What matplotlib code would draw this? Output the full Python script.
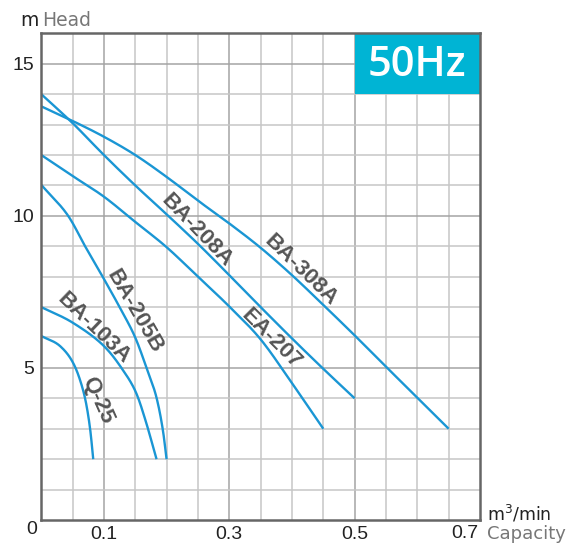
import matplotlib
matplotlib.use("Agg")
import matplotlib.pyplot as plt
from matplotlib.patches import Rectangle
import numpy as np

# ---- data ----
ba308a_x = [0, 0.05, 0.1, 0.15, 0.2, 0.25, 0.3, 0.35, 0.4, 0.45, 0.5, 0.55, 0.6, 0.65]
ba308a_y = [13.6, 13.12, 12.6, 12.0, 11.28, 10.5, 9.75, 8.95, 8.05, 7.07, 6.07, 5.04, 4.02, 3.0]

ba208a_x = [0, 0.05, 0.1, 0.15, 0.2, 0.25, 0.3, 0.35, 0.4, 0.45, 0.5]
ba208a_y = [14.0, 13.05, 12.0, 11.0, 10.05, 9.08, 8.05, 7.0, 5.97, 4.97, 4.0]

ea207_x = [0, 0.05, 0.1, 0.15, 0.2, 0.25, 0.3, 0.35, 0.4, 0.45]
ea207_y = [12.0, 11.31, 10.63, 9.8, 8.97, 8.0, 7.02, 5.94, 4.5, 3.0]

ba205b_x = [0, 0.043, 0.070, 0.098, 0.125, 0.15, 0.168, 0.184, 0.194, 0.2]
ba205b_y = [11.02, 10.0, 9.0, 8.0, 7.0, 6.0, 5.0, 4.02, 2.97, 2.0]

ba103a_x = [0, 0.05, 0.1, 0.128, 0.151, 0.166, 0.184]
ba103a_y = [7.0, 6.49, 5.72, 5.0, 4.2, 3.3, 2.0]

q25_x = [0, 0.03, 0.05, 0.062, 0.071, 0.078, 0.083]
q25_y = [6.05, 5.72, 5.2, 4.6, 3.9, 3.0, 2.0]

series = [
    ("BA-308A", ba308a_x, ba308a_y),
    ("BA-208A", ba208a_x, ba208a_y),
    ("EA-207", ea207_x, ea207_y),
    ("BA-205B", ba205b_x, ba205b_y),
    ("BA-103A", ba103a_x, ba103a_y),
    ("Q-25", q25_x, q25_y),
]

# label placement (x, y, rotation)
label_pos = {
    "BA-308A": (0.4145, 8.2, -44),
    "BA-208A": (0.2477, 9.5, -46),
    "EA-207": (0.367, 5.94, -45),
    "BA-205B": (0.149, 6.87, -60),
    "BA-103A": (0.0836, 6.3, -44),
    "Q-25": (0.0896, 3.93, -66),
}

x_ticks = [0.1, 0.3, 0.5]
x_tick_labels = ["0.1", "0.3", "0.5"]
y_ticks = [5, 10, 15]
y_tick_labels = ["5", "10", "15"]


def catmull_rom(xs, ys, ax_scale=(1.0, 1.0), n=24):
    """Smooth drawing path through the given points (centripetal Catmull-Rom)."""
    P = np.column_stack([np.asarray(xs) * ax_scale[0], np.asarray(ys) * ax_scale[1]])
    P = np.vstack([2 * P[0] - P[1], P, 2 * P[-1] - P[-2]])
    out = []
    for i in range(1, len(P) - 2):
        p0, p1, p2, p3 = P[i - 1], P[i], P[i + 1], P[i + 2]

        def tj(ti, a, b):
            return ti + max(np.linalg.norm(b - a), 1e-9) ** 0.5

        t0 = 0.0
        t1 = tj(t0, p0, p1)
        t2 = tj(t1, p1, p2)
        t3 = tj(t2, p2, p3)
        t = np.linspace(t1, t2, n)[:, None]
        A1 = (t1 - t) / (t1 - t0) * p0 + (t - t0) / (t1 - t0) * p1
        A2 = (t2 - t) / (t2 - t1) * p1 + (t - t1) / (t2 - t1) * p2
        A3 = (t3 - t) / (t3 - t2) * p2 + (t - t2) / (t3 - t2) * p3
        B1 = (t2 - t) / (t2 - t0) * A1 + (t - t0) / (t2 - t0) * A2
        B2 = (t3 - t) / (t3 - t1) * A2 + (t - t1) / (t3 - t1) * A3
        C = (t2 - t) / (t2 - t1) * B1 + (t - t1) / (t2 - t1) * B2
        out.append(C if i == 1 else C[1:])
    C = np.vstack(out)
    return C[:, 0] / ax_scale[0], C[:, 1] / ax_scale[1]


W, H = 579, 543
fig = plt.figure(figsize=(W / 100, H / 100), dpi=100)
ax = fig.add_axes([41.2 / W, (H - 520) / H, (480 - 41.2) / W, (520 - 33.3) / H])
ax.set_xlim(0, 0.7)
ax.set_ylim(0, 16)

# grid
for xv in np.arange(0.05, 0.7, 0.05):
    major = any(abs(xv - t) < 1e-6 for t in x_ticks)
    ax.axvline(xv, color="#a4a4a4" if major else "#c6c6c6", lw=1.1, zorder=1)
for yv in range(1, 16):
    major = yv in y_ticks
    ax.axhline(yv, color="#a4a4a4" if major else "#c6c6c6", lw=1.1, zorder=1)

# 50Hz box
ax.add_patch(Rectangle((0.5, 14), 0.2, 2, facecolor="#00b4d4", edgecolor="none", zorder=2))
ax.text(0.6, 14.97, "50Hz", color="white", fontsize=30, fontweight="semibold",
        ha="center", va="center", family="Open Sans", zorder=3)

curve_color = "#1a96d4"
scale = (628.0 / 0.1 / 100, 30.3 / 100)
for name, xs, ys in series:
    sx, sy = catmull_rom(xs, ys, scale)
    ax.plot(sx, sy, color=curve_color, lw=1.7, zorder=4, solid_capstyle="butt")
    lx, ly, rot = label_pos[name]
    ax.text(lx, ly, name, rotation=rot, rotation_mode="anchor", ha="center", va="center",
            fontsize=16, fontweight="bold", color="#555555", family="Liberation Sans", zorder=5)

for s in ax.spines.values():
    s.set_color("#666666")
    s.set_linewidth(1.8)
    s.set_zorder(6)

ax.set_xticks(x_ticks)
ax.set_xticklabels(x_tick_labels)
ax.set_yticks(y_ticks)
ax.set_yticklabels(y_tick_labels)
ax.tick_params(length=0, labelsize=14, colors="#222222")
ax.tick_params(axis="x", pad=4)
ax.tick_params(axis="y", pad=5)
for lab in ax.get_xticklabels() + ax.get_yticklabels():
    lab.set_family("Liberation Sans")


def fx(px):
    return px / W


def fy(py):
    return 1 - py / H


fig.text(fx(32), fy(530), "0", fontsize=14, ha="center", va="center", color="#222222", family="Liberation Sans")
fig.text(fx(478), fy(533), "0.7", fontsize=14, ha="right", va="center", color="#222222", family="Liberation Sans")
fig.text(fx(487), fy(534), "Capacity", fontsize=13, ha="left", va="center", color="#777777", family="DejaVu Sans")
fig.text(fx(487), fy(514), "m$^3$/min", fontsize=12.5, ha="left", va="center", color="#222222", family="DejaVu Sans")
fig.text(fx(20), fy(21), "m", fontsize=13.5, ha="left", va="center", color="#222222", family="DejaVu Sans")
fig.text(fx(42), fy(21), "Head", fontsize=13.5, ha="left", va="center", color="#777777", family="DejaVu Sans")

fig.savefig("out.png", dpi=100, facecolor="white")
